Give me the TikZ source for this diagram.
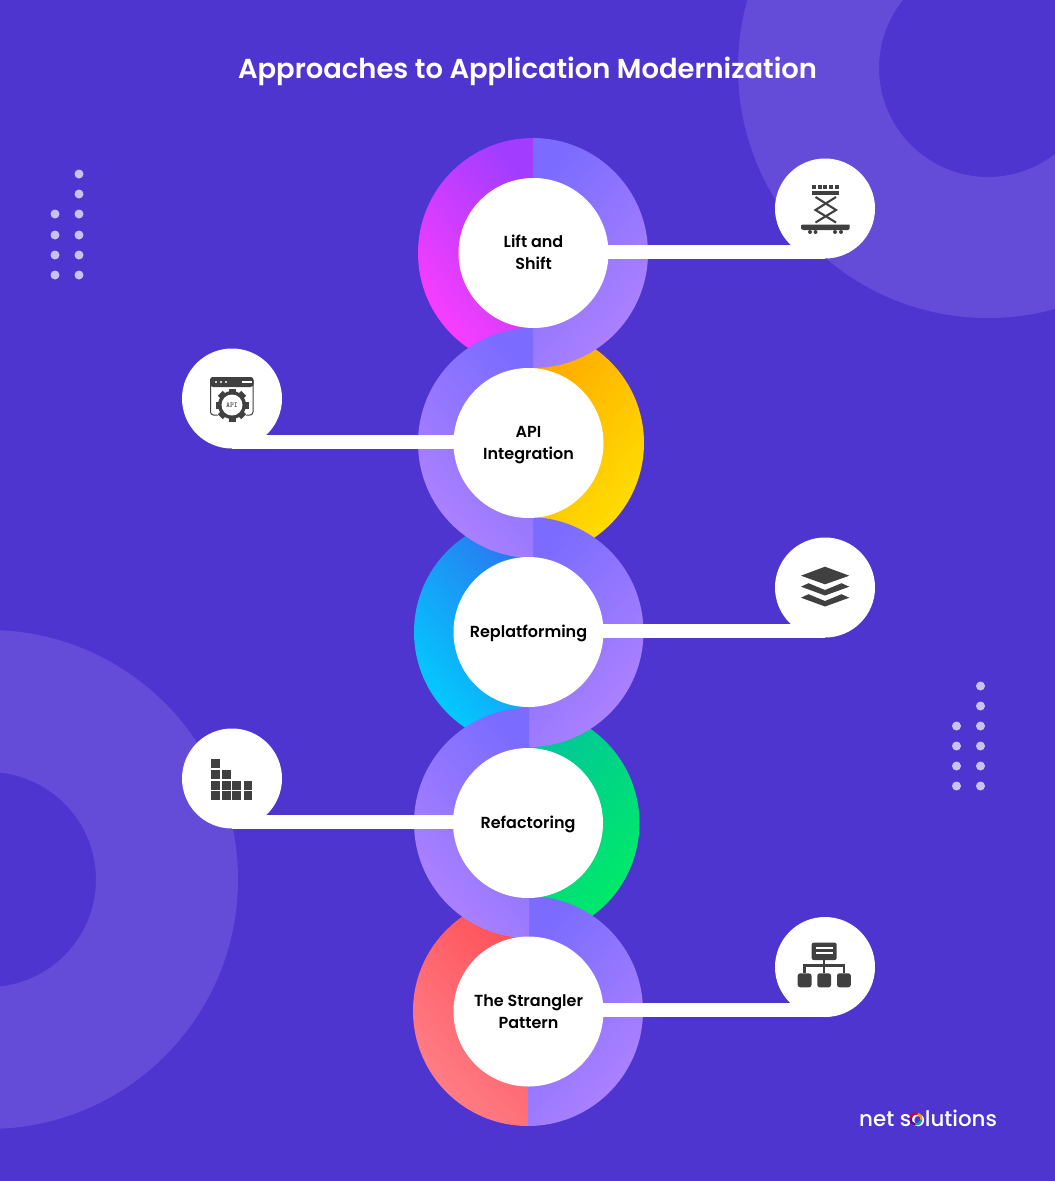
\documentclass[tikz,border=0pt]{standalone}
\usepackage{fontspec}
\setmainfont{Poppins}[BoldFont=Poppins SemiBold]
\newfontfamily\logofont{Poppins Medium}
\definecolor{bgc}{HTML}{4F35CF}
\definecolor{blob}{HTML}{644CD9}
\definecolor{dotc}{HTML}{C9C1F1}
\definecolor{ink}{HTML}{404040}
\definecolor{pa}{HTML}{7B6CFF}
\definecolor{pb}{HTML}{AE82FF}
\definecolor{pinka}{HTML}{A23DFF}
\definecolor{pinkb}{HTML}{FF3DFF}
\definecolor{yela}{HTML}{FFAA00}
\definecolor{yelb}{HTML}{FFE000}
\definecolor{blua}{HTML}{2A78F0}
\definecolor{blub}{HTML}{00CFFF}
\definecolor{grea}{HTML}{00C59A}
\definecolor{greb}{HTML}{00EC66}
\definecolor{reda}{HTML}{FF5058}
\definecolor{redb}{HTML}{FF8088}
\tikzset{
  hub/.style={circle,fill=white,minimum size=150pt,inner sep=0pt},
  hubtext/.style={inner sep=0pt,align=center,font=\fontsize{16}{22}\selectfont\bfseries,text=black},
  iconbg/.style={circle,fill=white,minimum size=100pt,inner sep=0pt},
  bar/.style={draw=white,line width=14pt},
  dot/.style={circle,fill=dotc,minimum size=9pt,inner sep=0pt},
  stroke/.style={draw=ink,line width=2.1pt}
}
\newcommand{\halfR}[4]{\shade[top color=#3,bottom color=#4,shading angle=50] (#1,#2-115) arc (-90:90:115) -- cycle;}
\newcommand{\halfL}[4]{\shade[top color=#3,bottom color=#4,shading angle=-50] (#1,#2-115) arc (-90:-270:115) -- cycle;}
\begin{document}
\begin{tikzpicture}[x=1pt,y=-1pt]
\useasboundingbox (0,0) rectangle (1055,1181);
\fill[bgc] (0,0) rectangle (1055,1181);
% background blobs
\begin{scope}
\clip (0,0) rectangle (1055,1181);
\fill[blob,even odd rule] (988,68) circle (250) (988,68) circle (109);
\fill[blob,even odd rule] (-11.5,879.5) circle (249.5) (-11.5,879.5) circle (107.5);
\end{scope}
% dots
\foreach \y in {174,194,214,235,255,275} \node[dot] (dl\y) at (79,\y) {};
\foreach \y in {214,235,255,275} \node[dot] (dm\y) at (55,\y) {};
\foreach \y in {686,706,726,746,766,786} \node[dot] (dr\y) at (980.5,\y) {};
\foreach \y in {726,746,766,786} \node[dot] (ds\y) at (956.5,\y) {};
% title
\node[font=\fontsize{27.4}{32}\selectfont\bfseries,text=white] (title) at (527.5,71.5) {Approaches to Application Modernization};
% coloured halves
\halfL{533}{253}{pinka}{pinkb}
\halfR{529}{443}{yela}{yelb}
\halfL{529}{632}{blua}{blub}
\halfR{524.5}{823}{grea}{greb}
\halfL{528}{1011}{reda}{redb}
% purple halves
\halfR{533}{253}{pa}{pb}
\halfR{528.5}{632}{pa}{pb}
\halfL{533}{443}{pa}{pb}
\halfR{528}{1011}{pa}{pb}
\halfL{529}{823}{pa}{pb}
% icon discs and hubs
\node[iconbg] (ic1) at (825,208.5) {};
\node[iconbg] (ic2) at (232,398.5) {};
\node[iconbg] (ic3) at (825,587.5) {};
\node[iconbg] (ic4) at (232,778.5) {};
\node[iconbg] (ic5) at (825,967) {};
\node[hub] (h1) at (533.5,253) {};
\node[hub] (h2) at (528.5,443) {};
\node[hub] (h3) at (528.5,632) {};
\node[hub] (h4) at (528,823) {};
\node[hub] (h5) at (528.5,1011.5) {};
\node[hubtext] (t1) at (533.5,252) {Lift and\\Shift};
\node[hubtext] (t2) at (528.5,445) {API\\Integration};
\node[hubtext] (t3) at (528.5,633) {Replatforming};
\node[hubtext] (t4) at (528,824) {Refactoring};
\node[hubtext] (t5) at (528.5,1011.5) {The Strangler\\Pattern};
% connectors
\coordinate (b1) at ([yshift=-43.5pt]ic1.center);
\coordinate (b2) at ([yshift=-43pt]ic2.center);
\coordinate (b3) at ([yshift=-43pt]ic3.center);
\coordinate (b4) at ([yshift=-43pt]ic4.center);
\coordinate (b5) at ([yshift=-43pt]ic5.center);
\draw[bar] ([xshift=-2pt]h1.east |- b1) -- (b1);
\draw[bar] ([xshift=2pt]h2.west |- b2) -- (b2);
\draw[bar] ([xshift=-2pt]h3.east |- b3) -- (b3);
\draw[bar] ([xshift=2pt]h4.west |- b4) -- (b4);
\draw[bar] ([xshift=-2pt]h5.east |- b5) -- (b5);
% icon 1: scissor lift
\foreach \x in {812,817.7,823.4,829.1,834.8} \fill[ink] (\x,185) rectangle +(4,4);
\fill[ink] (812,190.5) rectangle (839,194.5);
\draw[stroke] (815.5,197) -- (836,210) -- (815.5,222.5);
\draw[stroke] (836,197) -- (815.5,210) -- (836,222.5);
\fill[ink] (801,225.5) -- (802.5,224.5) -- (849.5,224.5) -- (849.5,228.5) -- (848,230) -- (803,230) -- (801,228.5) -- cycle;
\foreach \x in {810,815.5,835,841} \fill[ink] (\x,232) circle (2);
% icon 2: API window with gear
\draw[draw=ink,line width=1pt,rounded corners=3pt] (210.5,377.5) rectangle (253,415);
\fill[ink,rounded corners=3pt] (210,377) rectangle (253.5,387);
\foreach \x in {216,221,226} \fill[white] (\x,382) circle (1.1);
\fill[white] (242,381) rectangle (252,383);
\fill[white] (232,405) circle (17.5);
\foreach \a in {0,45,...,315} \fill[ink,rotate around={\a:(232,405)}] (228.5,388.5) rectangle (235.5,394);
\fill[ink] (232,405) circle (14);
\fill[white] (232,405) circle (10.5);
\node[font=\fontsize{7.5}{8}\ttfamily\bfseries,text=ink,inner sep=0pt] (apitext) at (232,405) {API};
% icon 3: blocks
\foreach \x/\y in {211/759,211/770,221.7/770,211/780.7,221.7/780.7,232.3/780.7,243.5/780.7,211/791.3,221.7/791.3,232.3/791.3,243.5/791.3}
  \fill[ink] (\x,\y) rectangle +(8.8,8.8);
% icon 4: layers
\fill[ink] (825,566.7) -- (849.3,575.7) -- (825,584.3) -- (801,575.7) -- cycle;
\fill[ink] (801,586.7) -- (808.5,583.2) -- (825,590) -- (841.5,583.2) -- (849.3,586.7) -- (825,595.5) -- cycle;
\fill[ink] (801,597.7) -- (808.5,594.2) -- (825,601) -- (841.5,594.2) -- (849.3,597.7) -- (825,606.5) -- cycle;
% icon 5: hierarchy
\fill[ink,rounded corners=2pt] (811.7,942.7) rectangle (836.7,960);
\fill[white] (816,947.4) rectangle (832.7,949.2);
\fill[white] (816,952.4) rectangle (832.7,954.2);
\draw[stroke] (824,960) -- (824,973);
\draw[stroke] (804.5,973) -- (804.5,965.5) -- (844,965.5) -- (844,973);
\foreach \x in {797.7,817.3,837} \fill[ink,rounded corners=2.5pt] (\x,973.3) rectangle +(13.8,14);
% logo
\node[font=\fontsize{21.4}{26}\logofont,text=white,inner sep=0pt,anchor=base west] (logo) at (859,1126) {net solutions};
\coordinate (ring) at (916,1119);
\draw[line width=2.2pt,draw=red!70!violet] ([shift={(-170:5.6)}]ring) arc (-170:-70:5.6);
\draw[line width=2.2pt,draw=orange!80!yellow] ([shift={(-70:5.6)}]ring) arc (-70:10:5.6);
\draw[line width=2.2pt,draw=teal!70!cyan] ([shift={(10:5.6)}]ring) arc (10:100:5.6);
\draw[line width=2.2pt,draw=violet!80!blue] ([shift={(100:5.6)}]ring) arc (100:190:5.6);
\end{tikzpicture}
\end{document}
